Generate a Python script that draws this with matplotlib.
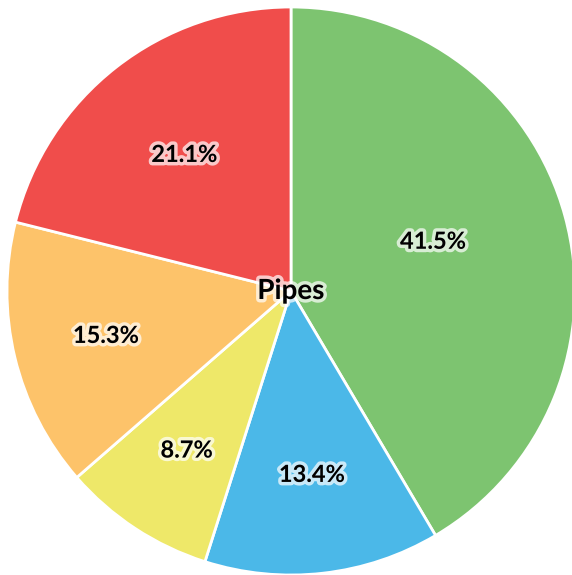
import matplotlib
matplotlib.use("Agg")
import matplotlib.pyplot as plt
import matplotlib.patheffects as pe
import numpy as np

categories = ["A", "B", "C", "D", "E"]
values = [41.5, 13.4, 8.7, 15.3, 21.1]
colors = ["#7DC470", "#4BB8E8", "#EEE869", "#FDC36A", "#F04D4B"]
center_label = "Pipes"

label_radius = [0.53, 0.65, 0.67, 0.67, 0.61]
label_angle_shift = [4, 0, 0, 0, 0]

W, H = 572, 575
fig = plt.figure(figsize=(W / 100, H / 100), dpi=100)
ax = fig.add_axes([0, 0, 1, 1])

cx, cy, r = 291, H - 291, 284
wedges, _ = ax.pie(values, colors=colors, startangle=90, counterclock=False,
                   center=(cx, cy), radius=r, frame=True,
                   wedgeprops=dict(edgecolor="white", linewidth=2))
ax.set_xlim(0, W)
ax.set_ylim(0, H)
ax.set_aspect("equal")
ax.axis("off")

fx = dict(family=["Lato", "DejaVu Sans"], fontweight="bold", color="black")
effects = [pe.withStroke(linewidth=5, foreground="white", alpha=0.7)]
for w, v, lr, sh in zip(wedges, values, label_radius, label_angle_shift):
    ang = np.deg2rad((w.theta1 + w.theta2) / 2 + sh)
    ax.text(cx + lr * r * np.cos(ang), cy + lr * r * np.sin(ang), f"{v:.1f}%",
            ha="center", va="center", fontsize=17, path_effects=effects, **fx)

ax.text(cx, cy, center_label, ha="center", va="center", fontsize=20,
        path_effects=effects, **fx)

fig.savefig("out.png", dpi=100)
